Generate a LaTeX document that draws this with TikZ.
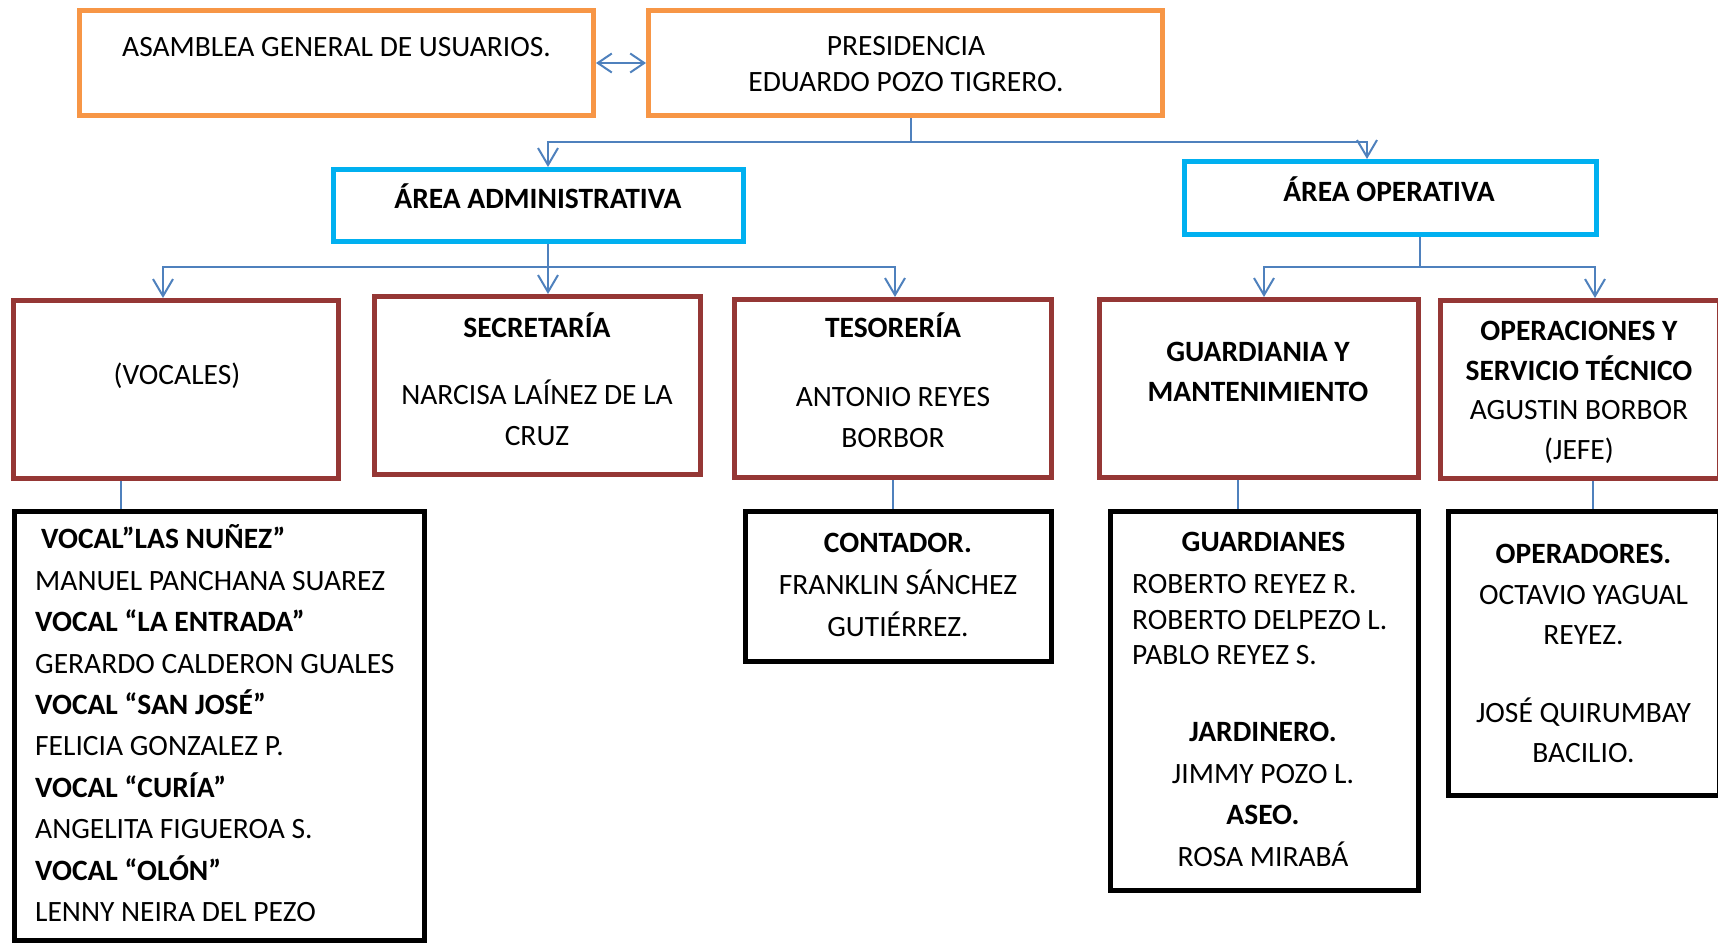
\documentclass[tikz,border=0pt]{standalone}
\usepackage{fontspec}
\setmainfont{Carlito}
\usetikzlibrary{arrows.meta}
\definecolor{orng}{HTML}{F79646}
\definecolor{cyanb}{HTML}{00B0F0}
\definecolor{redb}{HTML}{953735}
\definecolor{lnk}{HTML}{4F81BD}
\begin{document}
\begin{tikzpicture}[x=1pt,y=-1pt,
  box/.style={draw,inner sep=0pt,line width=5pt},
  obox/.style={box,draw=orng},
  cbox/.style={box,draw=cyanb},
  rbox/.style={box,draw=redb},
  kbox/.style={box,draw=black,line width=4.5pt},
  txt/.style={anchor=base,align=center,inner sep=0pt,font=\fontsize{29.5}{41}\selectfont},
  conn/.style={draw=lnk,line width=2pt},
  arr/.style={-{Straight Barb[length=17pt,width=20pt]}},
  darr/.style={{Straight Barb[length=14pt,width=19pt]}-{Straight Barb[length=14pt,width=19pt]}}]
\useasboundingbox (0,0) rectangle (1718,945);

% top row
\node[obox,minimum width=514pt,minimum height=105pt] (asam) at (336.5,63) {};
\node[obox,minimum width=514pt,minimum height=105pt] (pres) at (905.5,63) {};
\node[txt] (tasam) at (336.5,56.5) {ASAMBLEA GENERAL DE USUARIOS.};
\node[txt,font=\fontsize{29.5}{36}\selectfont] (tpres) at (906,91.5) {PRESIDENCIA\\EDUARDO POZO TIGRERO.};

% areas
\node[cbox,minimum width=410pt,minimum height=72pt] (adm) at (538.5,205.5) {};
\node[cbox,minimum width=412pt,minimum height=73pt] (ope) at (1390.5,198) {};
\node[txt,font=\bfseries\fontsize{29.5}{41}\selectfont] (tadm) at (538,208.5) {ÁREA ADMINISTRATIVA};
\node[txt,font=\bfseries\fontsize{29.5}{41}\selectfont] (tope) at (1389,201.5) {ÁREA OPERATIVA};

% second row
\node[rbox,minimum width=325pt,minimum height=178pt] (voc) at (176,389.5) {};
\node[rbox,minimum width=326pt,minimum height=178pt] (sec) at (537.5,385.5) {};
\node[rbox,minimum width=317pt,minimum height=178pt] (tes) at (893,388.5) {};
\node[rbox,minimum width=319pt,minimum height=178pt] (gm) at (1259,388.5) {};
\node[rbox,minimum width=279pt,minimum height=178pt] (ops) at (1580,389.5) {};

\node[txt] (tvoc) at (177,384.5) {(VOCALES)};
\node[txt] (tsec) at (537,445.5) {\textbf{SECRETARÍA}\\[26pt]NARCISA LAÍNEZ DE LA\\CRUZ};
\node[txt] (ttes) at (893,447.5) {\textbf{TESORERÍA}\\[28pt]ANTONIO REYES\\BORBOR};
\node[txt,font=\bfseries\fontsize{29.5}{40}\selectfont] (tgm) at (1258,401.5) {GUARDIANIA Y\\MANTENIMIENTO};
\node[txt,font=\fontsize{29.5}{39.5}\selectfont] (tops) at (1579,459) {\textbf{OPERACIONES Y}\\\textbf{SERVICIO TÉCNICO}\\AGUSTIN BORBOR\\(JEFE)};

% third row
\node[kbox,minimum width=410pt,minimum height=429pt] (vlist) at (219.5,726) {};
\node[kbox,minimum width=306pt,minimum height=150pt] (cont) at (898.5,586.5) {};
\node[kbox,minimum width=308pt,minimum height=379pt] (guard) at (1264.5,701) {};
\node[kbox,minimum width=271pt,minimum height=284pt] (oper) at (1584,653.5) {};

\node[txt,anchor=base west,align=left,font=\fontsize{29.5}{41.4}\selectfont] (tvlist) at (35,921.5)
 {\hspace*{6pt}\textbf{VOCAL”LAS NUÑEZ”}\\MANUEL PANCHANA SUAREZ\\\textbf{VOCAL “LA ENTRADA”}\\GERARDO CALDERON GUALES\\\textbf{VOCAL “SAN JOSÉ”}\\FELICIA GONZALEZ P.\\\textbf{VOCAL “CURÍA”}\\ANGELITA FIGUEROA S.\\\textbf{VOCAL “OLÓN”}\\LENNY NEIRA DEL PEZO};
\node[txt,font=\fontsize{29.5}{42}\selectfont] (tcont) at (898,636.5) {\textbf{CONTADOR.}\\FRANKLIN SÁNCHEZ\\GUTIÉRREZ.};
\node[txt,font=\bfseries\fontsize{29.5}{41}\selectfont] (tguard) at (1263.5,551.5) {GUARDIANES};
\node[txt,anchor=base west,align=left,font=\fontsize{29.5}{35.5}\selectfont] (tguardn) at (1132,664.5) {ROBERTO REYEZ R.\\ROBERTO DELPEZO L.\\PABLO REYEZ S.};
\node[txt,font=\fontsize{29.5}{41.7}\selectfont] (tguardo) at (1263,866.5) {\textbf{JARDINERO.}\\JIMMY POZO L.\\\textbf{ASEO.}\\ROSA MIRABÁ};
\node[txt,font=\fontsize{29.5}{40.5}\selectfont] (toper) at (1583.5,762.5) {\textbf{OPERADORES.}\\OCTAVIO YAGUAL\\REYEZ.\\[37pt]JOSÉ QUIRUMBAY\\BACILIO.};

% connectors
\draw[conn,darr] (asam.east) -- (pres.west);

\coordinate (j1) at (911,142);
\draw[conn] (pres.south -| j1) -- (j1);
\draw[conn,arr] (j1) -| ([xshift=9.5pt]adm.north);
\draw[conn,arr] (j1) -| ([xshift=-23.5pt]ope.north);

\coordinate (j2) at (548,267);
\draw[conn] (adm.south -| j2) -- (j2);
\draw[conn,arr] (j2) -| ([xshift=-13pt]voc.north);
\draw[conn,arr] (j2) -- (sec.north -| j2);
\draw[conn,arr] (j2) -| ([xshift=2pt]tes.north);

\coordinate (j3) at (1420,267);
\draw[conn] (ope.south -| j3) -- (j3);
\draw[conn,arr] (j3) -| ([xshift=5pt]gm.north);
\draw[conn,arr] (j3) -| ([xshift=15pt]ops.north);

\draw[conn] ([xshift=-55pt]voc.south) -- ([xshift=-98.5pt]vlist.north);
\draw[conn] (tes.south) -- ([xshift=-5.5pt]cont.north);
\draw[conn] ([xshift=-21pt]gm.south) -- ([xshift=-26.5pt]guard.north);
\draw[conn] ([xshift=13pt]ops.south) -- ([xshift=9pt]oper.north);
\end{tikzpicture}
\end{document}
